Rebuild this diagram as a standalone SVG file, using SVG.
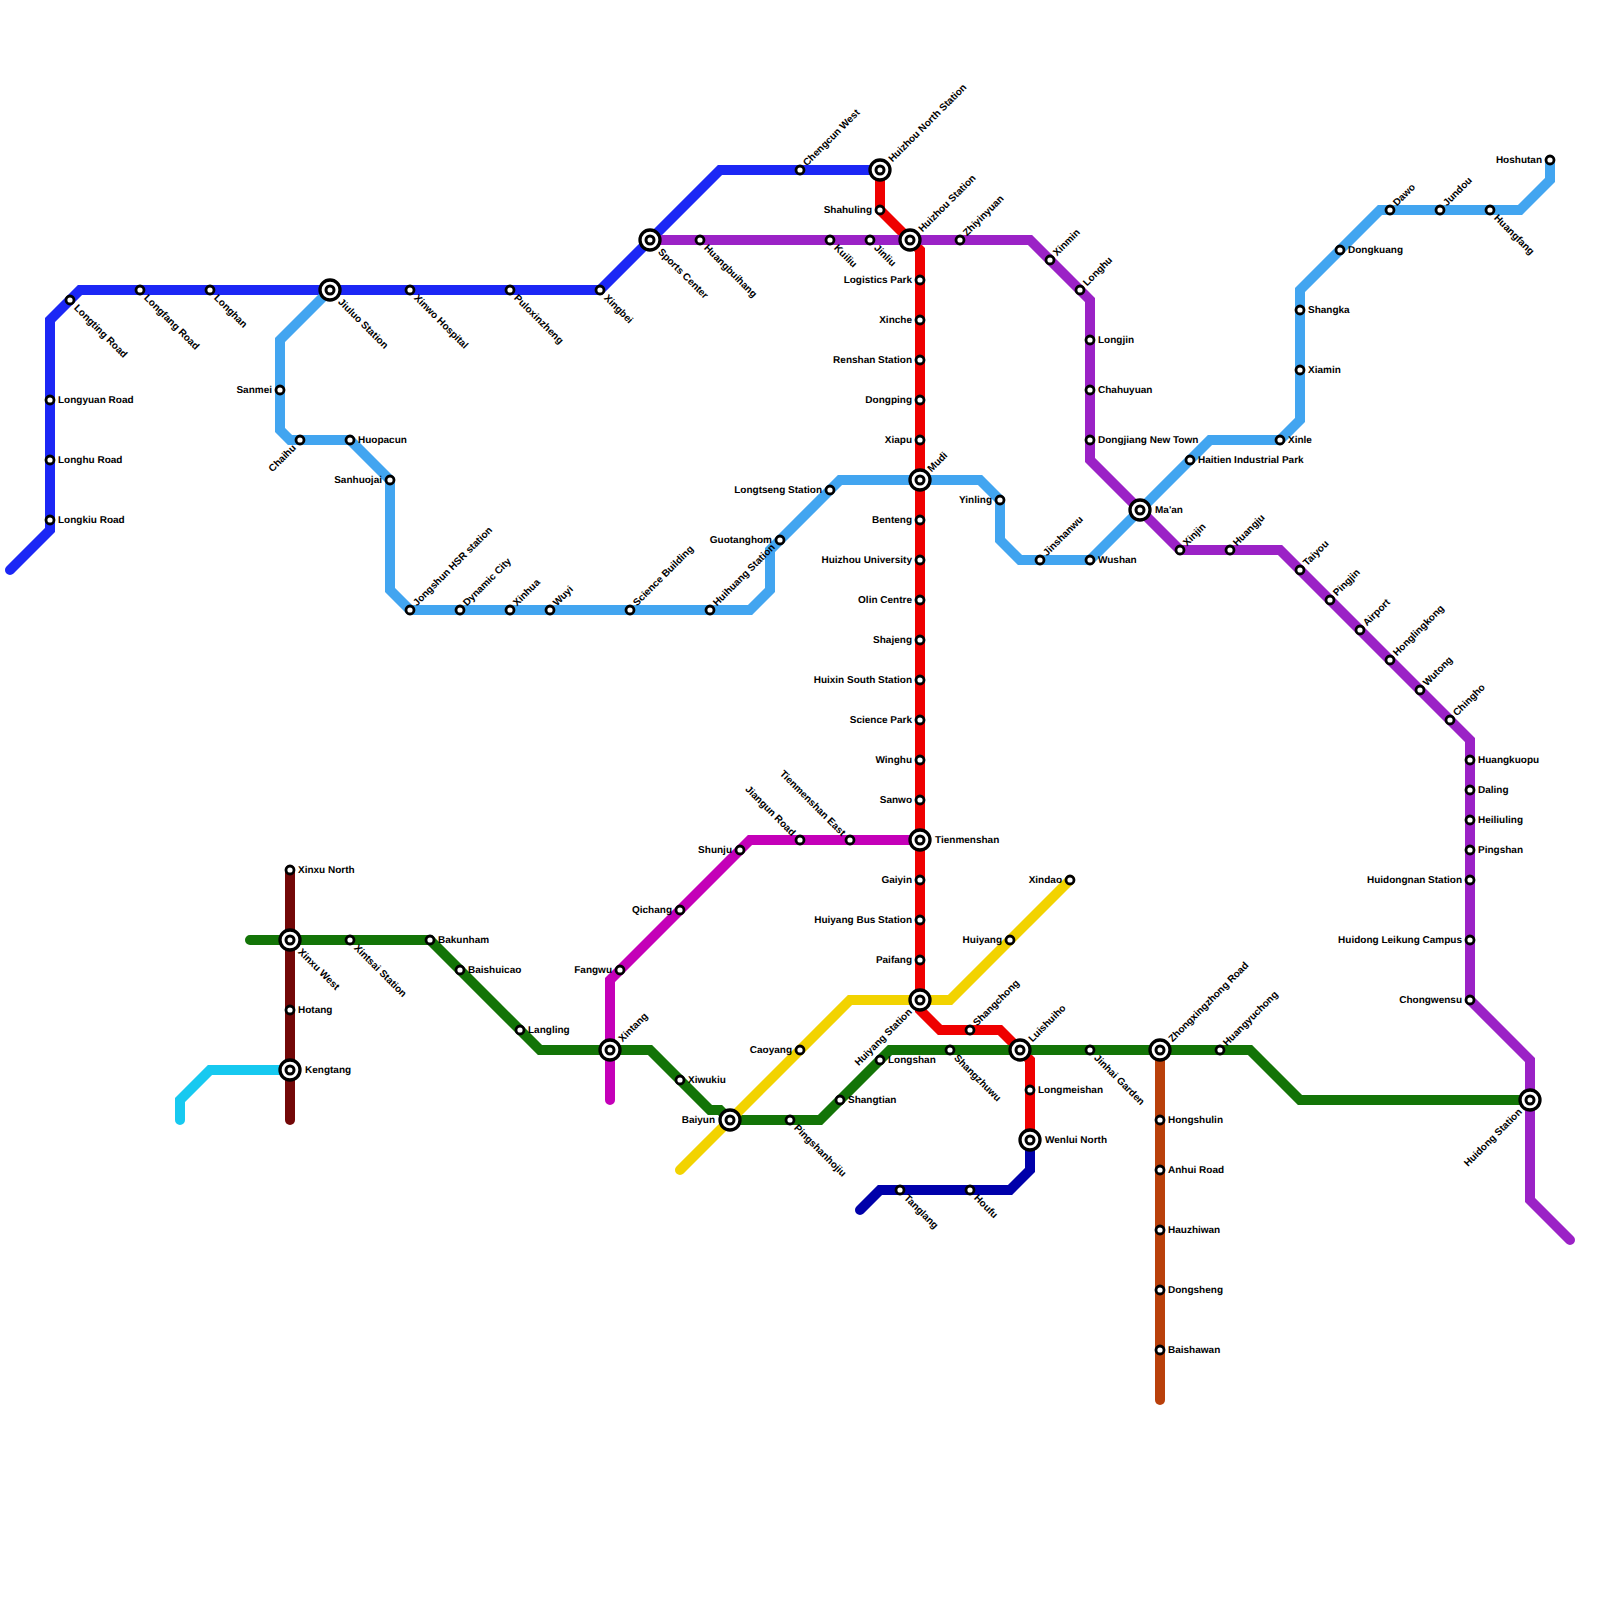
<svg xmlns="http://www.w3.org/2000/svg" width="1600" height="1600" viewBox="0 0 1600 1600">
<style>
.l{fill:none;stroke-width:10;stroke-linecap:round;stroke-linejoin:miter}
.s{fill:#fff;stroke:#000;stroke-width:2.8}
.o{fill:#fff;stroke:#000;stroke-width:3.3}
.i{fill:#fff;stroke:#000;stroke-width:3}
text{font-family:"Liberation Sans",Arial,sans-serif;font-size:10px;font-weight:700;fill:#000;text-rendering:geometricPrecision}
.e{text-anchor:end}
</style>
<rect width="1600" height="1600" fill="#fff"/>
<g id="connectors">
<polyline class="l" stroke="#1c27f5" points="10,570 50,530 50,320 80,290 600,290 720,170 880,170"/>
<polyline class="l" stroke="#42a5f0" points="330,290 280,340 280,430 290,440 350,440 390,480 390,590 410,610 750,610 770,590 770,550 780,540 840,480 980,480 1000,500 1000,540 1020,560 1090,560 1210,440 1280,440 1300,420 1300,290 1380,210 1520,210 1550,180 1550,160"/>
<polyline class="l" stroke="#ef0000" points="880,170 880,210 920,250 920,1010 940,1030 1000,1030 1030,1060 1030,1140"/>
<polyline class="l" stroke="#9b22c6" points="650,240 1030,240 1090,300 1090,460 1180,550 1280,550 1470,740 1470,1000 1530,1060 1530,1200 1570,1240"/>
<polyline class="l" stroke="#0000aa" points="1030,1140 1030,1170 1010,1190 880,1190 860,1210"/>
<polyline class="l" stroke="#137407" points="250,940 430,940 540,1050 650,1050 710,1110 720,1110 730,1120 820,1120 890,1050 1250,1050 1300,1100 1530,1100"/>
<polyline class="l" stroke="#730808" points="290,870 290,1120"/>
<polyline class="l" stroke="#17c9f0" points="180,1120 180,1100 210,1070 290,1070"/>
<polyline class="l" stroke="#c400b8" points="610,1100 610,980 750,840 920,840"/>
<polyline class="l" stroke="#f2d300" points="680,1170 850,1000 950,1000 1070,880"/>
<polyline class="l" stroke="#b9400b" points="1160,1050 1160,1400"/>
</g>
<g id="stations">
<g id="longting-road"><circle class="s" cx="70" cy="300" r="4"/><text transform="translate(73.5,308.5) rotate(45)">Longting Road</text></g>
<g id="longfang-road"><circle class="s" cx="140" cy="290" r="4"/><text transform="translate(143.5,298.5) rotate(45)">Longfang Road</text></g>
<g id="longhan"><circle class="s" cx="210" cy="290" r="4"/><text transform="translate(213.5,298.5) rotate(45)">Longhan</text></g>
<g id="longyuan-road"><circle class="s" cx="50" cy="400" r="4"/><text x="58" y="403">Longyuan Road</text></g>
<g id="longhu-road"><circle class="s" cx="50" cy="460" r="4"/><text x="58" y="463">Longhu Road</text></g>
<g id="longkiu-road"><circle class="s" cx="50" cy="520" r="4"/><text x="58" y="523">Longkiu Road</text></g>
<g id="jiuluo-station"><circle class="o" cx="330" cy="290" r="10"/><circle class="i" cx="330" cy="290" r="4"/><text transform="translate(337.5,302.5) rotate(45)">Jiuluo Station</text></g>
<g id="xinwo-hospital"><circle class="s" cx="410" cy="290" r="4"/><text transform="translate(413.5,298.5) rotate(45)">Xinwo Hospital</text></g>
<g id="puloxinzheng"><circle class="s" cx="510" cy="290" r="4"/><text transform="translate(513.5,298.5) rotate(45)">Puloxinzheng</text></g>
<g id="xingbei"><circle class="s" cx="600" cy="290" r="4"/><text transform="translate(603.5,298.5) rotate(45)">Xingbei</text></g>
<g id="sports-center"><circle class="o" cx="650" cy="240" r="10"/><circle class="i" cx="650" cy="240" r="4"/><text transform="translate(657.5,252.5) rotate(45)">Sports Center</text></g>
<g id="chengcun-west"><circle class="s" cx="800" cy="170" r="4"/><text transform="translate(807,166.5) rotate(-45)">Chengcun West</text></g>
<g id="huizhou-north-station"><circle class="o" cx="880" cy="170" r="10"/><circle class="i" cx="880" cy="170" r="4"/><text transform="translate(892.5,162.5) rotate(-45)">Huizhou North Station</text></g>
<g id="sanmei"><circle class="s" cx="280" cy="390" r="4"/><text class="e" x="272" y="393">Sanmei</text></g>
<g id="chaihu"><circle class="s" cx="300" cy="440" r="4"/><text class="e" transform="translate(296.5,448.5) rotate(-45)">Chaihu</text></g>
<g id="huopacun"><circle class="s" cx="350" cy="440" r="4"/><text x="358" y="443">Huopacun</text></g>
<g id="sanhuojai"><circle class="s" cx="390" cy="480" r="4"/><text class="e" x="382" y="483">Sanhuojai</text></g>
<g id="jongshun-hsr-station"><circle class="s" cx="410" cy="610" r="4"/><text transform="translate(417,606.5) rotate(-45)">Jongshun HSR station</text></g>
<g id="dynamic-city"><circle class="s" cx="460" cy="610" r="4"/><text transform="translate(467,606.5) rotate(-45)">Dynamic City</text></g>
<g id="xinhua"><circle class="s" cx="510" cy="610" r="4"/><text transform="translate(517,606.5) rotate(-45)">Xinhua</text></g>
<g id="wuyi"><circle class="s" cx="550" cy="610" r="4"/><text transform="translate(557,606.5) rotate(-45)">Wuyi</text></g>
<g id="science-building"><circle class="s" cx="630" cy="610" r="4"/><text transform="translate(637,606.5) rotate(-45)">Science Building</text></g>
<g id="huihuang-station"><circle class="s" cx="710" cy="610" r="4"/><text transform="translate(717,606.5) rotate(-45)">Huihuang Station</text></g>
<g id="guotanghom"><circle class="s" cx="780" cy="540" r="4"/><text class="e" x="772" y="543">Guotanghom</text></g>
<g id="longtseng-station"><circle class="s" cx="830" cy="490" r="4"/><text class="e" x="822" y="493">Longtseng Station</text></g>
<g id="yinling"><circle class="s" cx="1000" cy="500" r="4"/><text class="e" x="992" y="503">Yinling</text></g>
<g id="jinshanwu"><circle class="s" cx="1040" cy="560" r="4"/><text transform="translate(1047,556.5) rotate(-45)">Jinshanwu</text></g>
<g id="wushan"><circle class="s" cx="1090" cy="560" r="4"/><text x="1098" y="563">Wushan</text></g>
<g id="maan"><circle class="o" cx="1140" cy="510" r="10"/><circle class="i" cx="1140" cy="510" r="4"/><text x="1155" y="513">Ma'an</text></g>
<g id="haitien-industrial-park"><circle class="s" cx="1190" cy="460" r="4"/><text x="1198" y="463">Haitien Industrial Park</text></g>
<g id="xinle"><circle class="s" cx="1280" cy="440" r="4"/><text x="1288" y="443">Xinle</text></g>
<g id="shangka"><circle class="s" cx="1300" cy="310" r="4"/><text x="1308" y="313">Shangka</text></g>
<g id="xiamin"><circle class="s" cx="1300" cy="370" r="4"/><text x="1308" y="373">Xiamin</text></g>
<g id="dongkuang"><circle class="s" cx="1340" cy="250" r="4"/><text x="1348" y="253">Dongkuang</text></g>
<g id="dawo"><circle class="s" cx="1390" cy="210" r="4"/><text transform="translate(1397,206.5) rotate(-45)">Dawo</text></g>
<g id="jundou"><circle class="s" cx="1440" cy="210" r="4"/><text transform="translate(1447,206.5) rotate(-45)">Jundou</text></g>
<g id="huangfang"><circle class="s" cx="1490" cy="210" r="4"/><text transform="translate(1493.5,218.5) rotate(45)">Huangfang</text></g>
<g id="hoshutan"><circle class="s" cx="1550" cy="160" r="4"/><text class="e" x="1542" y="163">Hoshutan</text></g>
<g id="huangbuihang"><circle class="s" cx="700" cy="240" r="4"/><text transform="translate(703.5,248.5) rotate(45)">Huangbuihang</text></g>
<g id="kuiliu"><circle class="s" cx="830" cy="240" r="4"/><text transform="translate(833.5,248.5) rotate(45)">Kuiliu</text></g>
<g id="jinliu"><circle class="s" cx="870" cy="240" r="4"/><text transform="translate(873.5,248.5) rotate(45)">Jinliu</text></g>
<g id="huizhou-station"><circle class="o" cx="910" cy="240" r="10"/><circle class="i" cx="910" cy="240" r="4"/><text transform="translate(922.5,232.5) rotate(-45)">Huizhou Station</text></g>
<g id="zhiyinyuan"><circle class="s" cx="960" cy="240" r="4"/><text transform="translate(967,236.5) rotate(-45)">Zhiyinyuan</text></g>
<g id="xinmin"><circle class="s" cx="1050" cy="260" r="4"/><text transform="translate(1057,256.5) rotate(-45)">Xinmin</text></g>
<g id="longhu"><circle class="s" cx="1080" cy="290" r="4"/><text transform="translate(1087,286.5) rotate(-45)">Longhu</text></g>
<g id="longjin"><circle class="s" cx="1090" cy="340" r="4"/><text x="1098" y="343">Longjin</text></g>
<g id="chahuyuan"><circle class="s" cx="1090" cy="390" r="4"/><text x="1098" y="393">Chahuyuan</text></g>
<g id="dongjiang-new-town"><circle class="s" cx="1090" cy="440" r="4"/><text x="1098" y="443">Dongjiang New Town</text></g>
<g id="xinjin"><circle class="s" cx="1180" cy="550" r="4"/><text transform="translate(1187,546.5) rotate(-45)">Xinjin</text></g>
<g id="huangju"><circle class="s" cx="1230" cy="550" r="4"/><text transform="translate(1237,546.5) rotate(-45)">Huangju</text></g>
<g id="taiyou"><circle class="s" cx="1300" cy="570" r="4"/><text transform="translate(1307,566.5) rotate(-45)">Taiyou</text></g>
<g id="pingjin"><circle class="s" cx="1330" cy="600" r="4"/><text transform="translate(1337,596.5) rotate(-45)">Pingjin</text></g>
<g id="airport"><circle class="s" cx="1360" cy="630" r="4"/><text transform="translate(1367,626.5) rotate(-45)">Airport</text></g>
<g id="honglingkong"><circle class="s" cx="1390" cy="660" r="4"/><text transform="translate(1397,656.5) rotate(-45)">Honglingkong</text></g>
<g id="wutong"><circle class="s" cx="1420" cy="690" r="4"/><text transform="translate(1427,686.5) rotate(-45)">Wutong</text></g>
<g id="chingho"><circle class="s" cx="1450" cy="720" r="4"/><text transform="translate(1457,716.5) rotate(-45)">Chingho</text></g>
<g id="huangkuopu"><circle class="s" cx="1470" cy="760" r="4"/><text x="1478" y="763">Huangkuopu</text></g>
<g id="daling"><circle class="s" cx="1470" cy="790" r="4"/><text x="1478" y="793">Daling</text></g>
<g id="heiliuling"><circle class="s" cx="1470" cy="820" r="4"/><text x="1478" y="823">Heiliuling</text></g>
<g id="pingshan"><circle class="s" cx="1470" cy="850" r="4"/><text x="1478" y="853">Pingshan</text></g>
<g id="huidongnan-station"><circle class="s" cx="1470" cy="880" r="4"/><text class="e" x="1462" y="883">Huidongnan Station</text></g>
<g id="huidong-leikung-campus"><circle class="s" cx="1470" cy="940" r="4"/><text class="e" x="1462" y="943">Huidong Leikung Campus</text></g>
<g id="chongwensu"><circle class="s" cx="1470" cy="1000" r="4"/><text class="e" x="1462" y="1003">Chongwensu</text></g>
<g id="huidong-station"><circle class="o" cx="1530" cy="1100" r="10"/><circle class="i" cx="1530" cy="1100" r="4"/><text class="e" transform="translate(1522.5,1112.5) rotate(-45)">Huidong Station</text></g>
<g id="shahuling"><circle class="s" cx="880" cy="210" r="4"/><text class="e" x="872" y="213">Shahuling</text></g>
<g id="logistics-park"><circle class="s" cx="920" cy="280" r="4"/><text class="e" x="912" y="283">Logistics Park</text></g>
<g id="xinche"><circle class="s" cx="920" cy="320" r="4"/><text class="e" x="912" y="323">Xinche</text></g>
<g id="renshan-station"><circle class="s" cx="920" cy="360" r="4"/><text class="e" x="912" y="363">Renshan Station</text></g>
<g id="dongping"><circle class="s" cx="920" cy="400" r="4"/><text class="e" x="912" y="403">Dongping</text></g>
<g id="xiapu"><circle class="s" cx="920" cy="440" r="4"/><text class="e" x="912" y="443">Xiapu</text></g>
<g id="mudi"><circle class="o" cx="920" cy="480" r="10"/><circle class="i" cx="920" cy="480" r="4"/><text transform="translate(931.5,472.5) rotate(-45)">Mudi</text></g>
<g id="benteng"><circle class="s" cx="920" cy="520" r="4"/><text class="e" x="912" y="523">Benteng</text></g>
<g id="huizhou-university"><circle class="s" cx="920" cy="560" r="4"/><text class="e" x="912" y="563">Huizhou University</text></g>
<g id="olin-centre"><circle class="s" cx="920" cy="600" r="4"/><text class="e" x="912" y="603">Olin Centre</text></g>
<g id="shajeng"><circle class="s" cx="920" cy="640" r="4"/><text class="e" x="912" y="643">Shajeng</text></g>
<g id="huixin-south-station"><circle class="s" cx="920" cy="680" r="4"/><text class="e" x="912" y="683">Huixin South Station</text></g>
<g id="science-park"><circle class="s" cx="920" cy="720" r="4"/><text class="e" x="912" y="723">Science Park</text></g>
<g id="winghu"><circle class="s" cx="920" cy="760" r="4"/><text class="e" x="912" y="763">Winghu</text></g>
<g id="sanwo"><circle class="s" cx="920" cy="800" r="4"/><text class="e" x="912" y="803">Sanwo</text></g>
<g id="tienmenshan"><circle class="o" cx="920" cy="840" r="10"/><circle class="i" cx="920" cy="840" r="4"/><text x="935" y="843">Tienmenshan</text></g>
<g id="gaiyin"><circle class="s" cx="920" cy="880" r="4"/><text class="e" x="912" y="883">Gaiyin</text></g>
<g id="huiyang-bus-station"><circle class="s" cx="920" cy="920" r="4"/><text class="e" x="912" y="923">Huiyang Bus Station</text></g>
<g id="paifang"><circle class="s" cx="920" cy="960" r="4"/><text class="e" x="912" y="963">Paifang</text></g>
<g id="huiyang-station"><circle class="o" cx="920" cy="1000" r="10"/><circle class="i" cx="920" cy="1000" r="4"/><text class="e" transform="translate(912.5,1012.5) rotate(-45)">Huiyang Station</text></g>
<g id="shangchong"><circle class="s" cx="970" cy="1030" r="4"/><text transform="translate(977,1026.5) rotate(-45)">Shangchong</text></g>
<g id="luishuiho"><circle class="o" cx="1020" cy="1050" r="10"/><circle class="i" cx="1020" cy="1050" r="4"/><text transform="translate(1032.5,1042.5) rotate(-45)">Luishuiho</text></g>
<g id="longmeishan"><circle class="s" cx="1030" cy="1090" r="4"/><text x="1038" y="1093">Longmeishan</text></g>
<g id="wenlui-north"><circle class="o" cx="1030" cy="1140" r="10"/><circle class="i" cx="1030" cy="1140" r="4"/><text x="1045" y="1143">Wenlui North</text></g>
<g id="tanglang"><circle class="s" cx="900" cy="1190" r="4"/><text transform="translate(903.5,1198.5) rotate(45)">Tanglang</text></g>
<g id="houfu"><circle class="s" cx="970" cy="1190" r="4"/><text transform="translate(973.5,1198.5) rotate(45)">Houfu</text></g>
<g id="xinxu-north"><circle class="s" cx="290" cy="870" r="4"/><text x="298" y="873">Xinxu North</text></g>
<g id="xinxu-west"><circle class="o" cx="290" cy="940" r="10"/><circle class="i" cx="290" cy="940" r="4"/><text transform="translate(297.5,952.5) rotate(45)">Xinxu West</text></g>
<g id="hotang"><circle class="s" cx="290" cy="1010" r="4"/><text x="298" y="1013">Hotang</text></g>
<g id="kengtang"><circle class="o" cx="290" cy="1070" r="10"/><circle class="i" cx="290" cy="1070" r="4"/><text x="305" y="1073">Kengtang</text></g>
<g id="xintsai-station"><circle class="s" cx="350" cy="940" r="4"/><text transform="translate(353.5,948.5) rotate(45)">Xintsai Station</text></g>
<g id="bakunham"><circle class="s" cx="430" cy="940" r="4"/><text x="438" y="943">Bakunham</text></g>
<g id="baishuicao"><circle class="s" cx="460" cy="970" r="4"/><text x="468" y="973">Baishuicao</text></g>
<g id="langling"><circle class="s" cx="520" cy="1030" r="4"/><text x="528" y="1033">Langling</text></g>
<g id="xintang"><circle class="o" cx="610" cy="1050" r="10"/><circle class="i" cx="610" cy="1050" r="4"/><text transform="translate(622.5,1042.5) rotate(-45)">Xintang</text></g>
<g id="xiwukiu"><circle class="s" cx="680" cy="1080" r="4"/><text x="688" y="1083">Xiwukiu</text></g>
<g id="baiyun"><circle class="o" cx="730" cy="1120" r="10"/><circle class="i" cx="730" cy="1120" r="4"/><text class="e" x="715" y="1123">Baiyun</text></g>
<g id="pingshanhojiu"><circle class="s" cx="790" cy="1120" r="4"/><text transform="translate(793.5,1128.5) rotate(45)">Pingshanhojiu</text></g>
<g id="shangtian"><circle class="s" cx="840" cy="1100" r="4"/><text x="848" y="1103">Shangtian</text></g>
<g id="longshan"><circle class="s" cx="880" cy="1060" r="4"/><text x="888" y="1063">Longshan</text></g>
<g id="shangzhuwu"><circle class="s" cx="950" cy="1050" r="4"/><text transform="translate(953.5,1058.5) rotate(45)">Shangzhuwu</text></g>
<g id="jinhai-garden"><circle class="s" cx="1090" cy="1050" r="4"/><text transform="translate(1093.5,1058.5) rotate(45)">Jinhai Garden</text></g>
<g id="zhongxingzhong-road"><circle class="o" cx="1160" cy="1050" r="10"/><circle class="i" cx="1160" cy="1050" r="4"/><text transform="translate(1172.5,1042.5) rotate(-45)">Zhongxingzhong Road</text></g>
<g id="huangyuchong"><circle class="s" cx="1220" cy="1050" r="4"/><text transform="translate(1227,1046.5) rotate(-45)">Huangyuchong</text></g>
<g id="hongshulin"><circle class="s" cx="1160" cy="1120" r="4"/><text x="1168" y="1123">Hongshulin</text></g>
<g id="anhui-road"><circle class="s" cx="1160" cy="1170" r="4"/><text x="1168" y="1173">Anhui Road</text></g>
<g id="hauzhiwan"><circle class="s" cx="1160" cy="1230" r="4"/><text x="1168" y="1233">Hauzhiwan</text></g>
<g id="dongsheng"><circle class="s" cx="1160" cy="1290" r="4"/><text x="1168" y="1293">Dongsheng</text></g>
<g id="baishawan"><circle class="s" cx="1160" cy="1350" r="4"/><text x="1168" y="1353">Baishawan</text></g>
<g id="fangwu"><circle class="s" cx="620" cy="970" r="4"/><text class="e" x="612" y="973">Fangwu</text></g>
<g id="qichang"><circle class="s" cx="680" cy="910" r="4"/><text class="e" x="672" y="913">Qichang</text></g>
<g id="shunju"><circle class="s" cx="740" cy="850" r="4"/><text class="e" x="732" y="853">Shunju</text></g>
<g id="jiangun-road"><circle class="s" cx="800" cy="840" r="4"/><text class="e" transform="translate(791.5,836.5) rotate(45)">Jiangun Road</text></g>
<g id="tienmenshan-east"><circle class="s" cx="850" cy="840" r="4"/><text class="e" transform="translate(841.5,836.5) rotate(45)">Tienmenshan East</text></g>
<g id="caoyang"><circle class="s" cx="800" cy="1050" r="4"/><text class="e" x="792" y="1053">Caoyang</text></g>
<g id="huiyang"><circle class="s" cx="1010" cy="940" r="4"/><text class="e" x="1002" y="943">Huiyang</text></g>
<g id="xindao"><circle class="s" cx="1070" cy="880" r="4"/><text class="e" x="1062" y="883">Xindao</text></g>
</g>
</svg>
